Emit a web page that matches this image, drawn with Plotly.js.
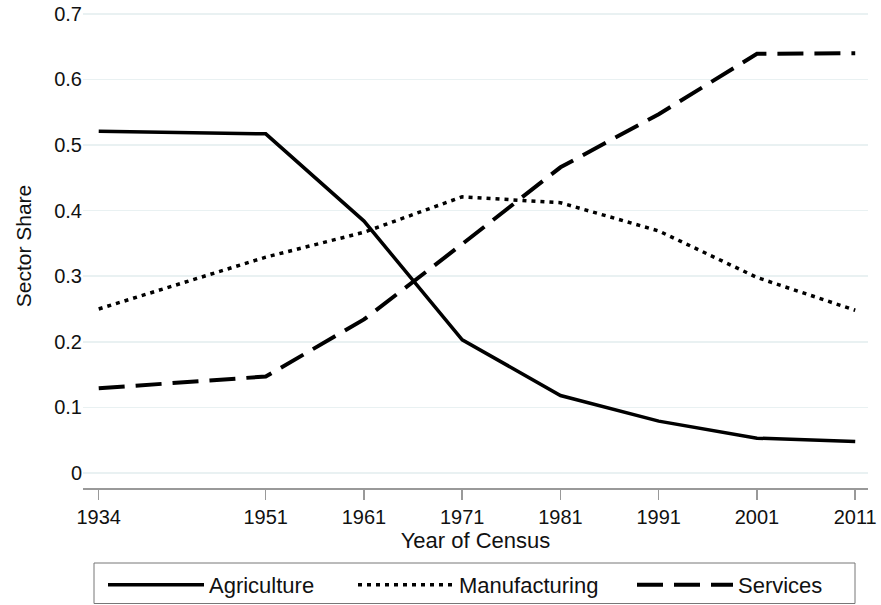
<!DOCTYPE html>
<html>
<head>
<meta charset="utf-8">
<script src="https://cdn.plot.ly/plotly-3.0.1.min.js"></script>
<style>html,body{margin:0;padding:0;background:#fff;}#chart{width:881px;height:605px;}</style>
</head>
<body>
<div id="chart"></div>
<script>
const years = [1934, 1951, 1961, 1971, 1981, 1991, 2001, 2011];
const agriculture = [0.521, 0.517, 0.384, 0.203, 0.118, 0.079, 0.053, 0.048];
const manufacturing = [0.250, 0.329, 0.367, 0.421, 0.412, 0.369, 0.298, 0.248];
const services = [0.129, 0.147, 0.234, 0.349, 0.466, 0.547, 0.639, 0.640];
const yTicks = [0, 0.1, 0.2, 0.3, 0.4, 0.5, 0.6, 0.7];
const yTickText = ["0", "0.1", "0.2", "0.3", "0.4", "0.5", "0.6", "0.7"];

const FONT = "Liberation Sans, Arial, sans-serif";
const W = 881, H = 605, ML = 83, MR = 13, MT = 4, MB = 117;
const PW = W - ML - MR, PH = H - MT - MB;
const px2x = p => (p - ML) / PW;
const py2y = p => (H - MB - p) / PH;

const traces = [
  {x: years, y: agriculture, name: "Agriculture", mode: "lines", legend: "legend", line: {color: "#000", width: 3.5}},
  {x: years, y: manufacturing, name: "Manufacturing", mode: "lines", legend: "legend2", line: {color: "#000", width: 3.5, dash: "4px,5px"}},
  {x: years, y: services, name: "Services", mode: "lines", legend: "legend3", line: {color: "#000", width: 4, dash: "26px,11px"}}
];
function leg(xpx) {
  return {
    orientation: "h", x: xpx / W, xref: "container", xanchor: "left",
    y: (H - 585) / H, yref: "container", yanchor: "middle",
    borderwidth: 0, bgcolor: "rgba(0,0,0,0)",
    font: {family: FONT, size: 22, color: "#111"},
    itemwidth: 96
  };
}
const layout = {
  width: W, height: H,
  margin: {l: ML, r: MR, t: MT, b: MB},
  paper_bgcolor: "#fff", plot_bgcolor: "#fff",
  font: {family: FONT, size: 20, color: "#111"},
  showlegend: true,
  legend: leg(103),
  legend2: leg(353),
  legend3: leg(632),
  shapes: [{
    type: "rect", xref: "paper", yref: "paper",
    x0: px2x(94), x1: px2x(855), y0: py2y(603.5), y1: py2y(563),
    line: {color: "#777", width: 1}, fillcolor: "rgba(0,0,0,0)", layer: "below"
  }],
  xaxis: {
    range: [1932.4, 2012.3],
    tickmode: "array", tickvals: years, ticktext: years.map(String),
    showgrid: false, zeroline: false,
    showline: true, linecolor: "#999", linewidth: 2,
    ticks: "outside", ticklen: 10, tickwidth: 1.5, tickcolor: "#999",
    tickfont: {family: FONT, size: 20, color: "#111"},
    title: {text: "Year of Census", font: {family: FONT, size: 22, color: "#111"}, standoff: 1}
  },
  yaxis: {
    range: [-0.023, 0.715],
    tickmode: "array", tickvals: yTicks, ticktext: yTickText,
    showgrid: true, gridcolor: "#e9f1f2", gridwidth: 1.5,
    zeroline: false, showline: false, ticks: "",
    tickfont: {family: FONT, size: 20, color: "#111"},
    title: {text: "Sector Share", font: {family: FONT, size: 21, color: "#111"}, standoff: 16}
  }
};
Plotly.newPlot("chart", traces, layout, {displayModeBar: false, staticPlot: true});
</script>
</body>
</html>
